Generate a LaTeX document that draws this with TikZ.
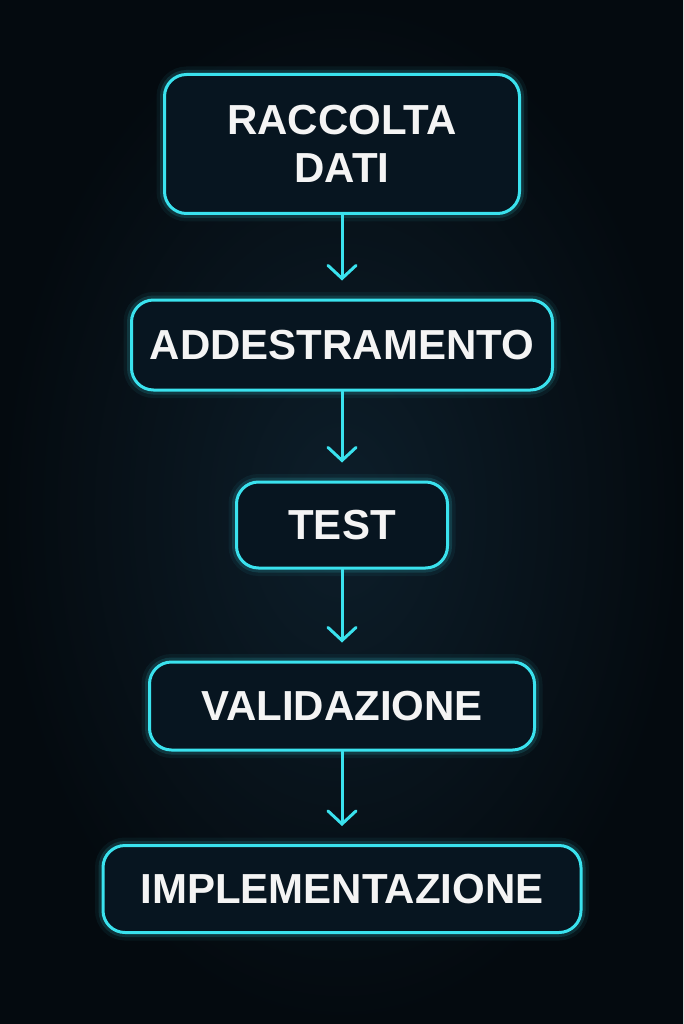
\documentclass[tikz,border=0pt]{standalone}
\usepackage{fontspec}
\setmainfont{Liberation Sans}
\usepackage{tikz}
\usetikzlibrary{arrows.meta}

\definecolor{bgnavy}{HTML}{0D1E2A}
\definecolor{bgdark}{HTML}{040A0F}
\definecolor{boxfill}{HTML}{071520}
\definecolor{neon}{HTML}{3AE2EE}
\definecolor{label}{HTML}{F4F4F4}

\tikzset{
	stepbox/.style={draw=neon, line width=3pt, rounded corners=22pt, fill=boxfill, text=label,
		font=\fontsize{42}{48}\selectfont\bfseries, align=center, inner sep=0pt,
		preaction={draw=neon, line width=16pt, opacity=0.06},
		preaction={draw=neon, line width=9pt, opacity=0.14}},
	link/.style={draw=neon, line width=3pt, line cap=round,
		-{Straight Barb[length=13pt, width=28pt, line cap=round]}, shorten >=18pt}
}

\begin{document}
\begin{tikzpicture}[x=1pt, y=-1pt]
		
		% sfondo
		\shade[inner color=bgnavy, outer color=bgdark] (0,0) rectangle (683,1024);
		\useasboundingbox (0,0) rectangle (683,1024);
		
		% fasi
		\node[stepbox, minimum width=355pt, minimum height=139pt] (raccolta) at (342,144) {RACCOLTA\\DATI};
		\node[stepbox, minimum width=421pt, minimum height=90pt] (addestramento) at (342,345) {ADDESTRAMENTO};
		\node[stepbox, minimum width=211pt, minimum height=86pt] (test) at (342,525) {TEST};
		\node[stepbox, minimum width=385pt, minimum height=88pt] (validazione) at (342,706) {VALIDAZIONE};
		\node[stepbox, minimum width=478pt, minimum height=87pt] (implementazione) at (342,889) {IMPLEMENTAZIONE};
		
		% frecce
		\draw[link] (raccolta) -- (addestramento);
		\draw[link] (addestramento) -- (test);
		\draw[link] (test) -- (validazione);
		\draw[link] (validazione) -- (implementazione);
	\end{tikzpicture}
\end{document}
